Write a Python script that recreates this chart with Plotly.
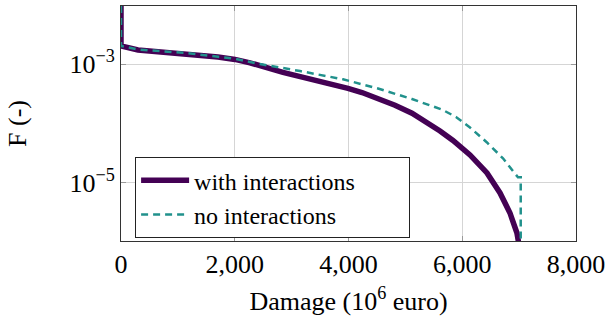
import plotly.graph_objects as go

# Damage (10^6 euro) and exceedance frequency F (-)
x_with = [0, 0, 299, 527, 1125, 1705, 2004, 2268, 2848, 3446, 3991, 4237, 4519, 4817, 5116, 5398,
          5609, 5837, 6136, 6435, 6664, 6839, 6962, 7006]
f_with = [1e-1, 2.04e-3, 1.75e-3, 1.68e-3, 1.54e-3, 1.33e-3, 1.21e-3, 1.06e-3, 7.3e-4, 5.37e-4, 3.93e-4,
          3.34e-4, 2.64e-4, 2.03e-4, 1.49e-4, 1.02e-4, 7.47e-5, 5.16e-5, 2.94e-5, 1.46e-5, 6.7e-6,
          3.08e-6, 1.41e-6, 8e-7]

x_no = [0, 0, 299, 527, 1125, 1705, 2004, 2444, 3147, 3903, 4519, 5116, 5433, 5644, 5890, 6136, 6435,
        6716, 6980, 7028, 7028]
f_no = [1e-1, 2.04e-3, 1.78e-3, 1.71e-3, 1.56e-3, 1.34e-3, 1.24e-3, 1.01e-3, 7.7e-4, 5.58e-4, 3.9e-4,
        2.59e-4, 2.05e-4, 1.72e-4, 1.29e-4, 8.56e-5, 4.78e-5, 2.58e-5, 1.23e-5, 1.23e-5, 1e-7]

x_ticks = [0, 2000, 4000, 6000, 8000]
x_ticklabels = ["0", "2,000", "4,000", "6,000", "8,000"]
y_ticks = [1e-3, 1e-5]
y_ticklabels = ["10<sup>\u22123</sup>", "10<sup>\u22125</sup>"]

FONT = "Liberation Serif, Times New Roman, serif"
FS = 26
fig = go.Figure()
fig.add_trace(go.Scatter(x=x_with, y=f_with, mode="lines", name="with interactions",
                         line=dict(color="#440154", width=5.5)))
fig.add_trace(go.Scatter(x=x_no, y=f_no, mode="lines", name="no interactions",
                         line=dict(color="#21918c", width=2.5, dash="7px,5px")))

axis_common = dict(showline=True, linecolor="#333", linewidth=1, mirror="allticks",
                   ticks="inside", ticklen=5, tickcolor="#999", showgrid=True,
                   gridcolor="#d5d5d5", gridwidth=1, zeroline=False, automargin=False,
                   ticklabeloverflow="allow",
                   tickfont=dict(family=FONT, size=FS, color="black"))

fig.update_layout(
    width=605, height=323,
    margin=dict(l=121, r=29, t=6, b=82),
    paper_bgcolor="white", plot_bgcolor="white",
    font=dict(family=FONT, size=FS, color="black"),
    xaxis=dict(range=[0, 8000], tickvals=x_ticks, ticktext=x_ticklabels,
               title=dict(text="Damage (10<sup>6</sup> euro)", font=dict(family=FONT, size=FS), standoff=13),
               **axis_common),
    yaxis=dict(type="log", range=[-5.985, -2.015], tickvals=y_ticks, ticktext=y_ticklabels,
               title=dict(text="F (-)", font=dict(family=FONT, size=FS), standoff=35),
               **axis_common),
    legend=dict(x=0.031, y=0.357, xanchor="left", yanchor="top", bgcolor="white",
                bordercolor="#222", borderwidth=1, font=dict(family=FONT, size=24),
                orientation="h", tracegroupgap=0, itemwidth=48,
                entrywidth=210, entrywidthmode="pixels"),
    showlegend=True,
)

fig.write_html("out.html", config={"displayModeBar": False},
               post_script="document.body.style.margin='0';")
